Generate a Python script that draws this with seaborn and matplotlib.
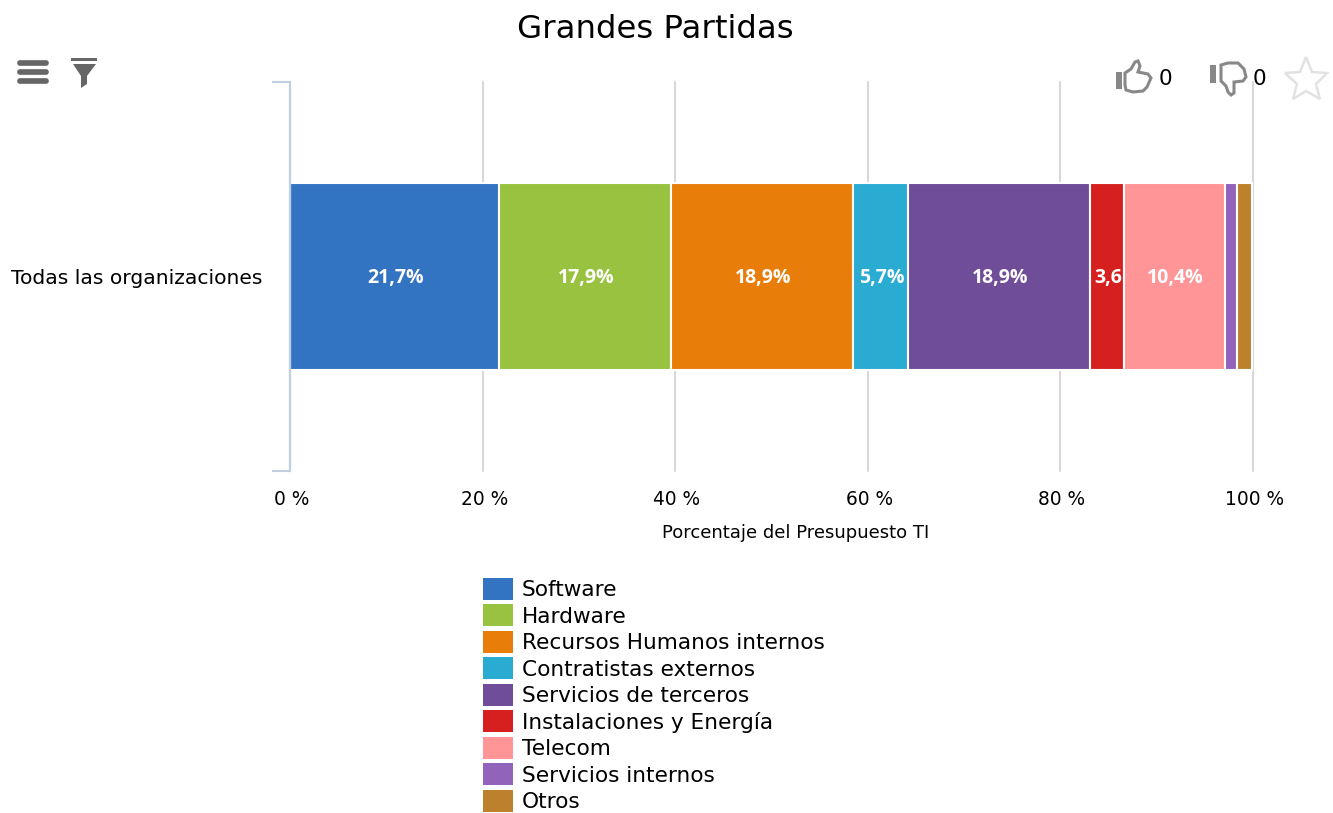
"""
Grandes Partidas - stacked budget bar
"""
import matplotlib.pyplot as plt
from matplotlib.patches import Patch, Polygon, Rectangle, FancyBboxPatch
from matplotlib.transforms import ScaledTranslation
import pandas as pd
import seaborn as sns

category = "Todas las organizaciones"
series = [
    "Software",
    "Hardware",
    "Recursos Humanos internos",
    "Contratistas externos",
    "Servicios de terceros",
    "Instalaciones y Energía",
    "Telecom",
    "Servicios internos",
    "Otros",
]
values = [21.7, 17.9, 18.9, 5.7, 18.9, 3.6, 10.4, 1.3, 1.6]
labels = ["21,7%", "17,9%", "18,9%", "5,7%", "18,9%", "3,6", "10,4%", "", ""]
colors = [
    "#3273c2", "#98c23f", "#e97d0a", "#29abd2", "#6f4d98",
    "#d6201f", "#ff9596", "#9263bb", "#bd812e",
]
xticks = [0, 20, 40, 60, 80, 100]
xticklabels = ["0 %", "20 %", "40 %", "60 %", "80 %", "100 %"]

W, H = 1333, 813
sns.set_theme(style="white")
plt.rcParams["font.family"] = ["DejaVu Sans"]

df = pd.DataFrame({"serie": series, "valor": values, "categoria": category})
df["inicio"] = df["valor"].cumsum() - df["valor"]

fig = plt.figure(figsize=(W / 100, H / 100), dpi=100, facecolor="white")
ax = fig.add_axes([290 / W, 1 - 471 / H, 962.5 / W, 389 / H])

for i, row in df.iterrows():
    sns.barplot(
        data=df[df["serie"] == row["serie"]],
        x="valor",
        y="categoria",
        left=row["inicio"],
        color=colors[i],
        saturation=1,
        width=0.482,
        edgecolor="white",
        linewidth=1.5,
        errorbar=None,
        ax=ax,
        zorder=3,
    )
    if labels[i]:
        ax.text(
            row["inicio"] + row["valor"] / 2 + 0.1, 0.005, labels[i],
            color="white", fontsize=14, fontweight="bold",
            ha="center", va="center", zorder=4,
            fontfamily="Open Sans",
        )

ax.set_xlim(0, 100)
ax.set_ylim(0.5, -0.5)
ax.set_xticks(xticks)
ax.set_xticklabels(xticklabels, fontsize=13.4, color="black")
ax.tick_params(axis="x", length=0, pad=13.5)
shift = ScaledTranslation(2 / 100, 0, fig.dpi_scale_trans)
for t in ax.get_xticklabels():
    t.set_transform(t.get_transform() + shift)
ax.set_xlabel("")
ax.set_ylabel("")
ax.set_yticks([-0.5, 0.5])
ax.set_yticklabels([])
ax.tick_params(axis="y", length=13, width=1.5, color="#c0d0e0", left=True)
ax.text(
    262 / W, 1 - 279 / H, category, transform=fig.transFigure,
    fontsize=14.6, ha="right", va="center", color="black",
)
ax.xaxis.grid(True, color="#d8d8d8", linewidth=1.5, zorder=0, clip_on=False)
ax.set_axisbelow(True)
for s in ["top", "right", "bottom"]:
    ax.spines[s].set_visible(False)
ax.spines["left"].set_color("#c0d0e0")
ax.spines["left"].set_linewidth(1.6)
ax.spines["left"].set_zorder(5)

fig.text(655 / W, 1 - 30 / H, "Grandes Partidas", fontsize=23.3, ha="center", va="center", color="black")
fig.text(796 / W, 1 - 533 / H, "Porcentaje del Presupuesto TI", fontsize=13, ha="center", va="center", color="black")

handles = [Patch(facecolor=c, edgecolor="none", label=s) for c, s in zip(colors, series)]
fig.legend(
    handles=handles,
    loc="upper left",
    bbox_to_anchor=(483 / W, 1 - 578 / H),
    borderaxespad=0,
    borderpad=0,
    frameon=False,
    fontsize=15.6,
    labelcolor="black",
    handlelength=1.39,
    handleheight=1.16,
    handletextpad=0.41,
    labelspacing=0.2,
)

# icons, in pixel coordinates of the picture
ov = fig.add_axes([0, 0, 1, 1], zorder=10)
ov.set_xlim(0, W)
ov.set_ylim(H, 0)
ov.axis("off")

for y in [60, 69, 78]:
    ov.add_patch(FancyBboxPatch((18, y + 1), 30, 4, boxstyle="round,pad=0,rounding_size=2",
                                fc="#666666", ec="#666666", lw=1.2))
ov.add_patch(Rectangle((71, 58), 26, 3, fc="#666666", ec="none"))
ov.add_patch(Polygon([(73, 64), (96, 64), (87, 76), (87, 84), (81, 88), (81, 76)], fc="#666666", ec="none"))

thumb_up = [(1125, 73), (1131, 69), (1135, 62), (1138, 61), (1140, 66), (1138, 72), (1148, 74),
            (1151, 78), (1147, 87), (1143, 91), (1133, 92), (1126, 90), (1125, 85)]
ov.add_patch(Rectangle((1116, 72), 6, 17, fc="#888888", ec="none"))
ov.add_patch(Polygon(thumb_up, closed=True, fc="none", ec="#888888", lw=2.2))
thumb_down = [(1221, 65), (1228, 63), (1238, 63), (1244, 69), (1246, 77), (1243, 81), (1234, 82),
              (1234, 93), (1231, 95), (1228, 92), (1226, 86), (1221, 81)]
ov.add_patch(Rectangle((1210, 65), 6, 18, fc="#888888", ec="none"))
ov.add_patch(Polygon(thumb_down, closed=True, fc="none", ec="#888888", lw=2.2))
star = [(1306, 57), (1312, 72), (1327, 73), (1316, 84), (1320, 99), (1306, 91), (1293, 99),
        (1297, 84), (1285, 73), (1300, 72)]
ov.add_patch(Polygon(star, closed=True, fc="none", ec="#e2e2e2", lw=1.8))
ov.text(1165, 79, "0", fontsize=15.5, ha="center", va="center", color="black")
ov.text(1259, 79, "0", fontsize=15.5, ha="center", va="center", color="black")

fig.savefig("out.png", dpi=100)
